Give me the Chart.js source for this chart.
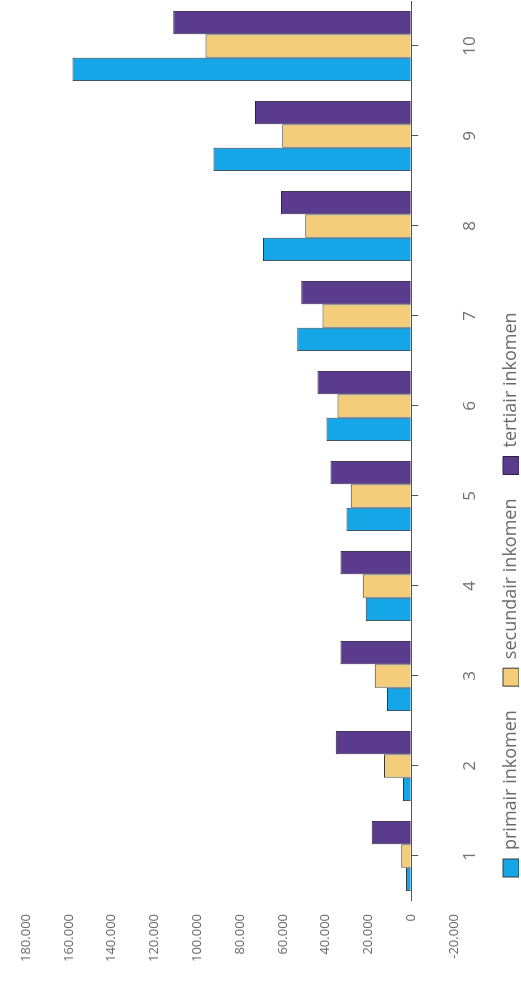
<!DOCTYPE html>
<html>
<head>
<meta charset="utf-8">
<script src="https://cdn.jsdelivr.net/npm/chart.js@4/dist/chart.umd.min.js"></script>
<style>
  html, body { margin: 0; padding: 0; background: #ffffff; overflow: hidden; }
  body { width: 521px; height: 1000px; position: relative; }
  #wrap {
    position: absolute; left: 0; top: 0;
    width: 1000px; height: 521px;
    transform-origin: 0 0;
    transform: translateY(1000px) rotate(-90deg);
  }
</style>
</head>
<body>
<div id="wrap"><canvas id="c" width="1000" height="521"></canvas></div>
<script>
const categories = ['1', '2', '3', '4', '5', '6', '7', '8', '9', '10'];
const seriesNames = ['primair inkomen', 'secundair inkomen', 'tertiair inkomen'];
const primair   = [2400, 3800, 11300, 21200, 30200, 39600, 53300, 69300, 92400, 158300];
const secundair = [4700, 12700, 17000, 22600, 28300, 34400, 41500, 49500, 60300, 96100];
const tertiair  = [18400, 35300, 33000, 33000, 37700, 43800, 51400, 60800, 73000, 111200];
const valueMin = -20000;
const valueMax = 180000;
const valueStep = 20000;

function fmt(v) {
  const neg = v < 0;
  let s = String(Math.abs(Math.round(v)));
  s = s.replace(/\B(?=(\d{3})+(?!\d))/g, '.');
  return (neg ? '-' : '') + s;
}

const zeroTicks = {
  id: 'zeroTicks',
  afterDatasetsDraw(chart) {
    const x = chart.scales.x, y = chart.scales.y;
    const y0 = y.getPixelForValue(0);
    const ctx = chart.ctx;
    ctx.save();
    ctx.strokeStyle = '#555555';
    ctx.lineWidth = 1;
    x.ticks.forEach((t, i) => {
      const px = Math.round(x.getPixelForTick(i)) + 0.5;
      ctx.beginPath();
      ctx.moveTo(px, y0);
      ctx.lineTo(px, y0 + 7);
      ctx.stroke();
    });
    ctx.restore();
  }
};

const font = "'Open Sans', 'DejaVu Sans', sans-serif";
new Chart(document.getElementById('c'), {
  type: 'bar',
  data: {
    labels: categories,
    datasets: [
      { label: seriesNames[0], data: primair,   backgroundColor: '#14a6e6', borderColor: '#2f3a44', borderWidth: 1 },
      { label: seriesNames[1], data: secundair, backgroundColor: '#f3cd7a', borderColor: '#3a3a34', borderWidth: 1 },
      { label: seriesNames[2], data: tertiair,  backgroundColor: '#5b3b8e', borderColor: '#2e2440', borderWidth: 1 }
    ]
  },
  options: {
    responsive: false,
    animation: false,
    devicePixelRatio: 1,
    categoryPercentage: 0.78,
    barPercentage: 1.0,
    layout: { padding: { top: 26, left: 0, right: 1, bottom: 2 } },
    plugins: {
      tooltip: { enabled: false },
      legend: {
        position: 'bottom',
        align: 'start',
        fullSize: false,
        maxHeight: 41,
        labels: {
          boxWidth: 18, boxHeight: 16, padding: 24,
          color: '#6a6a6a',
          font: { family: font, size: 18 }
        }
      }
    },
    scales: {
      x: {
        grid: { display: false, drawTicks: false },
        border: { display: false },
        ticks: { color: '#707070', padding: 6, maxRotation: 0, autoSkip: false, font: { family: font, size: 17 } },
        afterFit(s) { s.height = 24; }
      },
      y: {
        min: valueMin, max: valueMax,
        grid: {
          drawTicks: false,
          color: (c) => (c.tick && c.tick.value === 0) ? '#555555' : 'rgba(0,0,0,0)',
          lineWidth: 1
        },
        border: { display: false },
        ticks: {
          stepSize: valueStep, padding: 13, color: '#6a6a6a',
          font: { family: font, size: 13 },
          callback: (v) => fmt(v)
        },
        afterFit(s) { s.width = 99; }
      }
    }
  },
  plugins: [zeroTicks]
});
</script>
</body>
</html>
